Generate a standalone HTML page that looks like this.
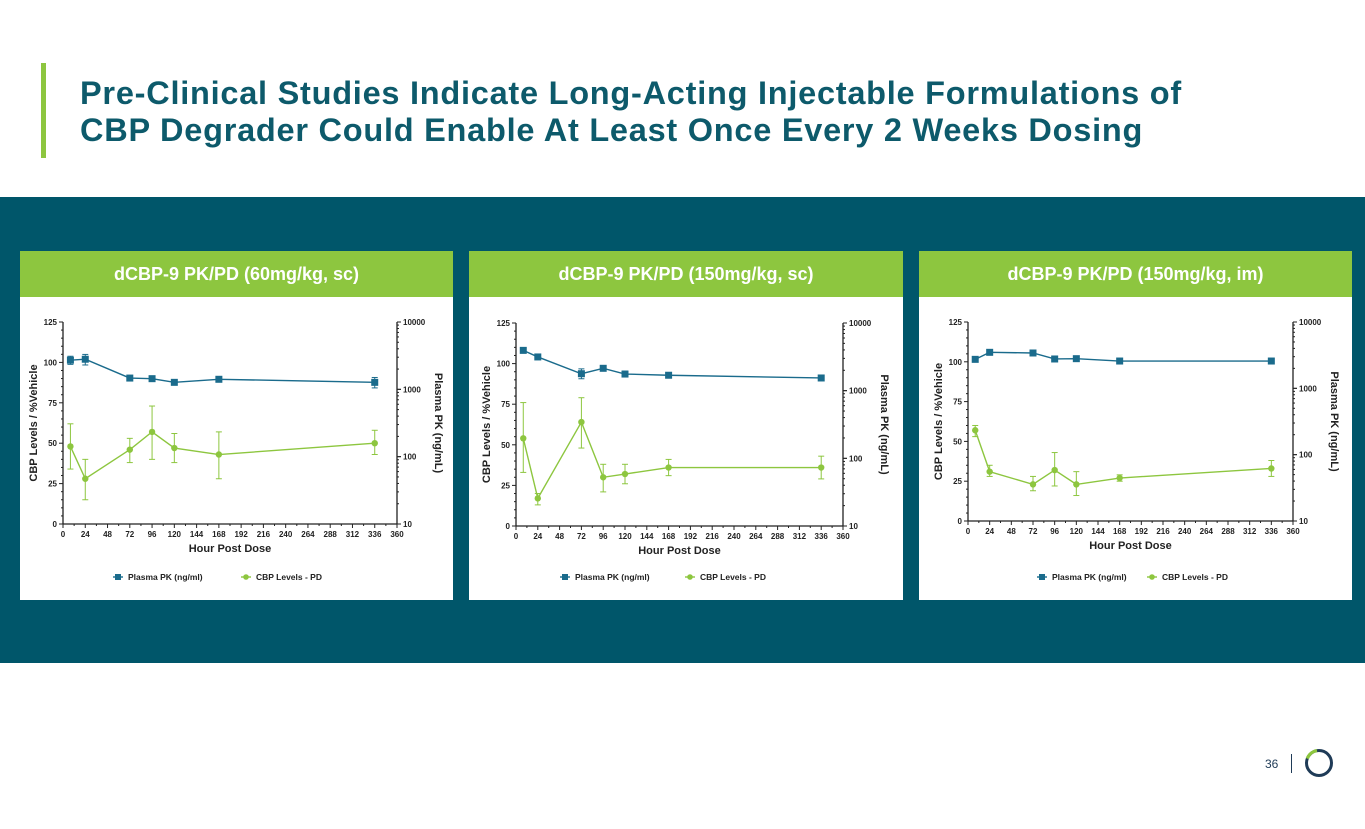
<!DOCTYPE html>
<html><head><meta charset="utf-8">
<style>
body{margin:0;width:1365px;height:829px;background:#fff;position:relative;overflow:hidden;font-family:"Liberation Sans",Arial,sans-serif}
.bar{position:absolute;left:41px;top:63px;width:5px;height:95px;background:#8dc63f}
.title{position:absolute;left:80px;top:75px;font-size:32.5px;font-weight:bold;color:#0d5a6b;line-height:37px;letter-spacing:0.75px;white-space:nowrap}
.band{position:absolute;left:0;top:197px;width:1365px;height:466px;background:#00566a}
.panel{position:absolute;top:251px;height:349px;background:#fff}
.hdr{height:46px;background:#8dc63f;color:#fff;font-weight:bold;font-size:18px;text-align:center;line-height:46px}
.pg{position:absolute;left:1265px;top:757px;font-size:12px;color:#1f3b57}
</style></head><body>
<div class="bar"></div>
<div class="title">Pre-Clinical Studies Indicate Long-Acting Injectable Formulations of<br>CBP Degrader Could Enable At Least Once Every 2 Weeks Dosing</div>
<div class="band"></div>
<div class="panel" style="left:20px;width:433px"><div class="hdr">dCBP-9 PK/PD (60mg/kg, sc)</div></div>
<div class="panel" style="left:469px;width:434px"><div class="hdr">dCBP-9 PK/PD (150mg/kg, sc)</div></div>
<div class="panel" style="left:919px;width:433px"><div class="hdr">dCBP-9 PK/PD (150mg/kg, im)</div></div>
<svg id="charts" width="1365" height="829" style="position:absolute;left:0;top:0"></svg>
<div class="pg">36</div>
<div style="position:absolute;left:1291px;top:754px;width:1px;height:19px;background:#1f3b57"></div>
<svg style="position:absolute;left:1303px;top:747px" width="32" height="32">
<circle cx="16" cy="16" r="12.5" fill="none" stroke="#1f3b57" stroke-width="3"/>
<path d="M4.3 11.6 A12.5 12.5 0 0 1 14 3.6" fill="none" stroke="#8dc63f" stroke-width="3.2"/>
</svg>
<script>
const hours=[8,24,72,96,120,168,336];
const xTicks=[0,24,48,72,96,120,144,168,192,216,240,264,288,312,336,360];
const yTicks=[0,25,50,75,100,125];
const logTicks=[10,100,1000,10000];
const pk1=[2710,2800,1470,1440,1270,1410,1270];
const pk1Lo=[2350,2300,1400,1380,1200,1350,1050];
const pk1Hi=[3100,3300,1550,1500,1330,1470,1500];
const pd1=[48,28,46,57,47,43,50];
const pd1Lo=[34,15,38,40,38,28,43];
const pd1Hi=[62,40,53,73,56,57,58];
const pk2=[3940,3150,1780,2140,1760,1690,1540];
const pk2Lo=[3940,3150,1500,2140,1600,1690,1540];
const pk2Hi=[3940,3150,2100,2140,1950,1690,1540];
const pd2=[54,17,64,30,32,36,36];
const pd2Lo=[33,13,48,21,26,31,29];
const pd2Hi=[76,20,79,38,38,41,43];
const pk3=[2735,3490,3410,2770,2800,2580,2580];
const pk3Lo=[2735,3490,3410,2770,2800,2580,2450];
const pk3Hi=[2735,3490,3410,2770,2800,2580,2720];
const pd3=[57,31,23,32,23,27,33];
const pd3Lo=[53,28,19,22,16,25,28];
const pd3Hi=[60,35,28,43,31,29,38];

const NS="http://www.w3.org/2000/svg";
const svg=document.getElementById('charts');
const BLUE="#1a6b8c",GREEN="#8dc63f",AX="#222";
function mk(tag,attrs,parent){const e=document.createElementNS(NS,tag);for(const k in attrs)e.setAttribute(k,attrs[k]);(parent||svg).appendChild(e);return e;}
function txt(parent,x,y,s,size,anchor,rot){const t=mk('text',{x:x,y:y,'font-size':size,'font-weight':'bold','text-anchor':anchor||'middle',fill:AX,'font-family':'Liberation Sans, Arial, sans-serif'},parent);if(rot)t.setAttribute('transform','rotate('+rot+' '+x+' '+y+')');t.textContent=s;return t;}

function chart(cfg,pk,pkLo,pkHi,pd,pdLo,pdHi){
  const g=mk('g',{});
  
  
  const L=cfg.l,R=cfg.r,T=cfg.t,B=cfg.b;
  const xs=h=>L+(h/360)*(R-L);
  const yl=v=>B-(v/125)*(B-T);
  const yr=v=>B-((Math.log10(v)-1)/3)*(B-T);
  mk('line',{x1:L,y1:T,x2:L,y2:B,stroke:AX,'stroke-width':1.3},g);
  mk('line',{x1:R,y1:T,x2:R,y2:B,stroke:AX,'stroke-width':1.3},g);
  mk('line',{x1:L,y1:B,x2:R,y2:B,stroke:AX,'stroke-width':1.3},g);
  for(let h=0;h<=360;h+=12){const major=h%24===0;mk('line',{x1:xs(h),y1:B,x2:xs(h),y2:B+(major?4:2),stroke:AX,'stroke-width':1},g);}
  xTicks.forEach(h=>{const t=txt(g,xs(h),B+13,h,8);});
  for(let v=0;v<=125;v+=5){const major=v%25===0;mk('line',{x1:L,y1:yl(v),x2:L-(major?4:2),y2:yl(v),stroke:AX,'stroke-width':1},g);}
  yTicks.forEach(v=>{const t=txt(g,L-6,yl(v)+3,v,8,'end');});
  for(let d=1;d<=3;d++)for(let m=1;m<=10;m++){const v=m*Math.pow(10,d);const major=m===1||m===10;mk('line',{x1:R,y1:yr(v),x2:R+(major?4:2),y2:yr(v),stroke:AX,'stroke-width':1},g);}
  logTicks.forEach(v=>{const t=txt(g,R+6,yr(v)+3,v,8,'start');});
  const xt=txt(g,(L+R)/2,B+28,'Hour Post Dose',11);
  const yt=txt(g,L-26,(T+B)/2,'CBP Levels / %Vehicle',11,'middle',-90);
  const y2=txt(g,R+38,(T+B)/2,'Plasma  PK (ng/mL)',11,'middle',90);
  function series(vals,lo,hi,yf,col,sq,nm){
    mk('polyline',{points:hours.map((h,i)=>xs(h)+','+yf(vals[i])).join(' '),fill:'none',stroke:col,'stroke-width':1.4},g);
    hours.forEach((h,i)=>{
      const x=xs(h);
      if(yf(lo[i])-yf(hi[i])>1){mk('line',{x1:x,y1:yf(lo[i]),x2:x,y2:yf(hi[i]),stroke:col,'stroke-width':1},g);
        mk('line',{x1:x-3,y1:yf(lo[i]),x2:x+3,y2:yf(lo[i]),stroke:col,'stroke-width':1},g);
        mk('line',{x1:x-3,y1:yf(hi[i]),x2:x+3,y2:yf(hi[i]),stroke:col,'stroke-width':1},g);}
      const m=sq?mk('rect',{x:x-3.5,y:yf(vals[i])-3.5,width:7,height:7,fill:col},g):mk('circle',{cx:x,cy:yf(vals[i]),r:3.2,fill:col},g);
      
      
    });
  }
  series(pk,pkLo,pkHi,yr,BLUE,true,'pk-point');
  series(pd,pdLo,pdHi,yl,GREEN,false,'pd-point');
  const ly=cfg.ly,lx=cfg.lx;
  mk('line',{x1:lx-5,y1:ly,x2:lx+5,y2:ly,stroke:BLUE,'stroke-width':1.4},g);
  mk('rect',{x:lx-3,y:ly-3,width:6,height:6,fill:BLUE},g);
  const l1=txt(g,lx+10,ly+3,'Plasma PK (ng/ml)',8.5,'start');
  const lx2=cfg.lx2;
  mk('line',{x1:lx2-5,y1:ly,x2:lx2+5,y2:ly,stroke:GREEN,'stroke-width':1.4},g);
  mk('circle',{cx:lx2,cy:ly,r:2.8,fill:GREEN},g);
  const l2=txt(g,lx2+10,ly+3,'CBP Levels - PD',8.5,'start');
}
chart({name:'chart-60-sc',l:63,r:397,t:322,b:524,ly:577,lx:118,lx2:246},pk1,pk1Lo,pk1Hi,pd1,pd1Lo,pd1Hi);
chart({name:'chart-150-sc',l:516,r:843,t:323,b:526,ly:577,lx:565,lx2:690},pk2,pk2Lo,pk2Hi,pd2,pd2Lo,pd2Hi);
chart({name:'chart-150-im',l:968,r:1293,t:322,b:521,ly:577,lx:1042,lx2:1152},pk3,pk3Lo,pk3Hi,pd3,pd3Lo,pd3Hi);
</script>
</body></html>
